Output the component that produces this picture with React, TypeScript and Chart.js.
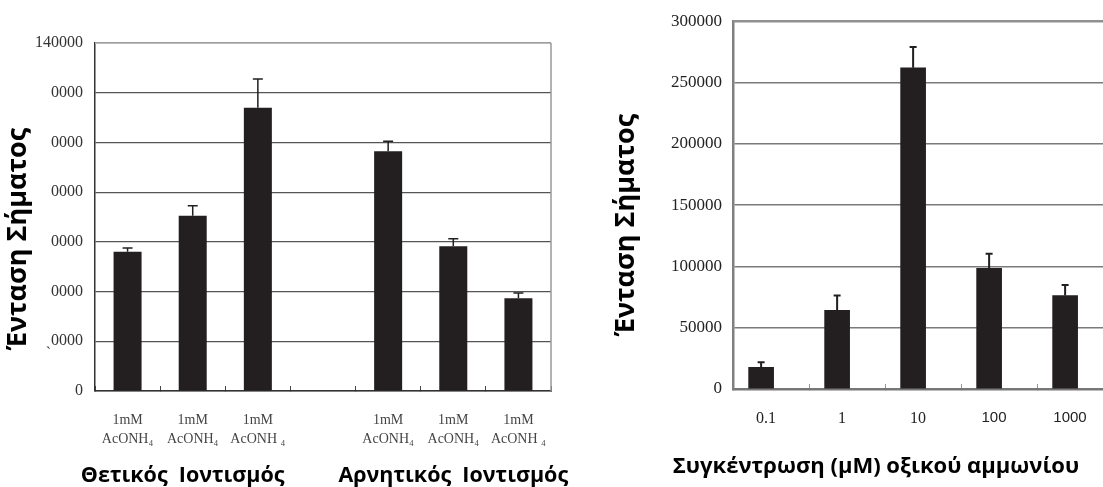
import React, { useEffect, useRef } from "react";
import { Chart, registerables } from "chart.js";
Chart.register(...registerables);

// ---------- data ----------
const leftCategories: (string | string[])[] = [
  ["1mM", "AcONH₄"],
  ["1mM", "AcONH₄"],
  ["1mM", "AcONH ₄"],
  "",
  ["1mM", "AcONH₄"],
  ["1mM", "AcONH₄"],
  ["1mM", "AcONH ₄"],
];
const leftValues = [56000, 70500, 114000, null, 96500, 58200, 37300];
const leftErrors = [1500, 4000, 11500, null, 4000, 3000, 2100];
const leftYTickLabels = ["0", "ˏ0000", "0000", "0000", "0000", "0000", "0000", "140000"];
const leftGroupTitles = ["Θετικός  Ιοντισμός", "Αρνητικός  Ιοντισμός"];
const leftGroupCenterIndex = [1, 5];

const rightCategories = ["0.1", "1", "10", "100", "1000"];
const rightValues = [17600, 64200, 262000, 98400, 76200];
const rightErrors = [4300, 12000, 17000, 12000, 8600];
const rightYTickLabels = ["0", "50000", "100000", "150000", "200000", "250000", "300000"];
const rightXTitle = "Συγκέντρωση (μΜ) οξικού αμμωνίου";

const yTitle = "Ένταση Σήματος";

const SERIF = '"Liberation Serif", "Times New Roman", serif';
const ARIAL = '"Liberation Sans", Arial, sans-serif';
const SANS = '"Open Sans", "Noto Sans", sans-serif';
const BAR = "#231f20";

function errorBarPlugin(errors: (number | null)[], cap: number, width: number) {
  return {
    id: "errbars",
    afterDatasetsDraw(chart: any) {
      const meta = chart.getDatasetMeta(0);
      const ys = chart.scales.y;
      const ctx = chart.ctx;
      ctx.save();
      ctx.strokeStyle = BAR;
      ctx.lineWidth = width;
      meta.data.forEach((el: any, i: number) => {
        const parsed = meta._parsed[i];
        const v = parsed ? parsed.y : null;
        const e = errors[i];
        if (v == null || isNaN(v) || e == null) return;
        const top = ys.getPixelForValue(v + e);
        ctx.beginPath();
        ctx.moveTo(el.x, el.y);
        ctx.lineTo(el.x, top);
        ctx.moveTo(el.x - cap / 2, top);
        ctx.lineTo(el.x + cap / 2, top);
        ctx.stroke();
      });
      ctx.restore();
    },
  };
}

function useChart(ref: React.RefObject<HTMLCanvasElement>, make: () => any) {
  useEffect(() => {
    if (!ref.current) return;
    const chart = new Chart(ref.current, make());
    return () => chart.destroy();
  }, []);
}

function drawYTitle(ctx: any, x: number, y: number) {
  ctx.save();
  ctx.fillStyle = "#000";
  ctx.font = `bold 27px ${SANS}`;
  ctx.textAlign = "center";
  ctx.textBaseline = "alphabetic";
  ctx.translate(x, y);
  ctx.rotate(-Math.PI / 2);
  ctx.fillText(yTitle, 0, 0);
  ctx.restore();
}

function LeftChart() {
  const ref = useRef<HTMLCanvasElement>(null);
  useChart(ref, () => ({
    type: "bar",
    data: {
      labels: leftCategories,
      datasets: [
        {
          data: leftValues,
          backgroundColor: BAR,
          barPercentage: 0.86,
          categoryPercentage: 0.5,
        },
      ],
    },
    options: {
      responsive: false,
      animation: false,
      layout: { padding: { left: 0, top: 43, right: 29, bottom: 0 } },
      plugins: { legend: { display: false }, tooltip: { enabled: false } },
      scales: {
        x: {
          grid: { display: true, drawOnChartArea: false, drawTicks: true, tickLength: -5, color: "#444", offset: true },
          border: { display: true, color: "#333", width: 1.5 },
          ticks: {
            font: { family: SERIF, size: 14, lineHeight: 1.35 },
            color: "#444",
            padding: 25,
            maxRotation: 0,
            autoSkip: false,
          },
          afterFit: (s: any) => {
            s.height = 96;
            s.paddingLeft = 0;
            s.paddingRight = 0;
          },
        },
        y: {
          min: 0,
          max: 140000,
          ticks: {
            stepSize: 20000,
            callback: (v: any) => leftYTickLabels[Math.round(v / 20000)],
            font: { family: SERIF, size: 16 },
            color: "#333",
            padding: 12,
          },
          grid: { color: "#555", lineWidth: 1.2, drawTicks: false },
          border: { color: "#333", width: 1.5 },
          afterFit: (s: any) => {
            s.width = 95;
          },
        },
      },
    },
    plugins: [
      errorBarPlugin(leftErrors, 10, 1.5),
      {
        id: "decor",
        afterDraw(chart: any) {
          const { ctx, chartArea: a } = chart;
          ctx.save();
          ctx.lineWidth = 1.5;
          ctx.strokeStyle = "#b5b5b5";
          ctx.beginPath();
          ctx.moveTo(a.left, a.top);
          ctx.lineTo(a.right, a.top);
          ctx.stroke();
          ctx.strokeStyle = "#999";
          ctx.beginPath();
          ctx.moveTo(a.right, a.top);
          ctx.lineTo(a.right, a.bottom);
          ctx.stroke();
          ctx.restore();
          drawYTitle(ctx, 26, 239);
          ctx.save();
          ctx.fillStyle = "#000";
          ctx.font = `bold 21.5px ${SANS}`;
          ctx.textAlign = "center";
          ctx.textBaseline = "alphabetic";
          const xs = chart.scales.x;
          const shifts = [-10, 0];
          leftGroupTitles.forEach((t, i) => {
            ctx.fillText(t, xs.getPixelForValue(leftGroupCenterIndex[i]) + shifts[i], 482);
          });
          ctx.restore();
        },
      },
    ],
  }));
  return (
    <canvas
      ref={ref}
      width={580}
      height={487}
      style={{ position: "absolute", left: 0, top: 0, width: 580, height: 487 }}
    />
  );
}

function RightChart() {
  const ref = useRef<HTMLCanvasElement>(null);
  useChart(ref, () => ({
    type: "bar",
    data: {
      labels: rightCategories,
      datasets: [
        {
          data: rightValues.map((v, i) => ({ x: i, y: v })),
          xAxisID: "xb",
          backgroundColor: BAR,
          barThickness: 25,
        },
      ],
    },
    options: {
      responsive: false,
      animation: false,
      layout: { padding: { left: 0, top: 20, right: 7, bottom: 0 } },
      plugins: { legend: { display: false }, tooltip: { enabled: false } },
      scales: {
        x: {
          type: "category",
          offset: true,
          grid: { display: true, drawOnChartArea: false, drawTicks: true, tickLength: -5, color: "#999", offset: true },
          border: { display: true, color: "#777", width: 2.5 },
          ticks: {
            font: (c: any) =>
              c.index >= 3 ? { family: ARIAL, size: 15 } : { family: SERIF, size: 16 },
            color: "#222",
            padding: 25,
            labelOffset: -5,
            maxRotation: 0,
            autoSkip: false,
          },
          afterFit: (s: any) => {
            s.height = 98;
            s.paddingLeft = 0;
            s.paddingRight = 0;
          },
        },
        xb: {
          type: "linear",
          display: false,
          offset: false,
          min: -0.37,
          max: 4.63,
          afterFit: (s: any) => {
            s.paddingLeft = 0;
            s.paddingRight = 0;
          },
        },
        y: {
          min: 0,
          max: 300000,
          ticks: {
            stepSize: 50000,
            callback: (v: any) => rightYTickLabels[Math.round(v / 50000)],
            font: { family: SERIF, size: 17 },
            color: "#222",
            padding: 11,
          },
          grid: { color: "#7a7a7a", lineWidth: 1.5, drawTicks: false },
          border: { color: "#808080", width: 2.5 },
          afterFit: (s: any) => {
            s.width = 153;
          },
        },
      },
    },
    plugins: [
      errorBarPlugin(rightErrors, 7, 2),
      {
        id: "decor",
        afterDraw(chart: any) {
          const { ctx, chartArea: a } = chart;
          ctx.save();
          ctx.lineWidth = 2.5;
          ctx.strokeStyle = "#909090";
          ctx.beginPath();
          ctx.moveTo(a.left, a.top);
          ctx.lineTo(a.right, a.top);
          ctx.stroke();
          ctx.restore();
          drawYTitle(ctx, 54, 225);
          ctx.save();
          ctx.fillStyle = "#000";
          ctx.font = `bold 22px ${SANS}`;
          ctx.textAlign = "center";
          ctx.textBaseline = "alphabetic";
          ctx.fillText(rightXTitle, 296, 473);
          ctx.restore();
        },
      },
    ],
  }));
  return (
    <canvas
      ref={ref}
      width={540}
      height={487}
      style={{ position: "absolute", left: 580, top: 0, width: 540, height: 487 }}
    />
  );
}

export default function App() {
  return (
    <div
      style={{
        position: "fixed",
        left: 0,
        top: 0,
        width: 1103,
        height: 487,
        overflow: "hidden",
        background: "#fff",
      }}
    >
      <LeftChart />
      <RightChart />
    </div>
  );
}
